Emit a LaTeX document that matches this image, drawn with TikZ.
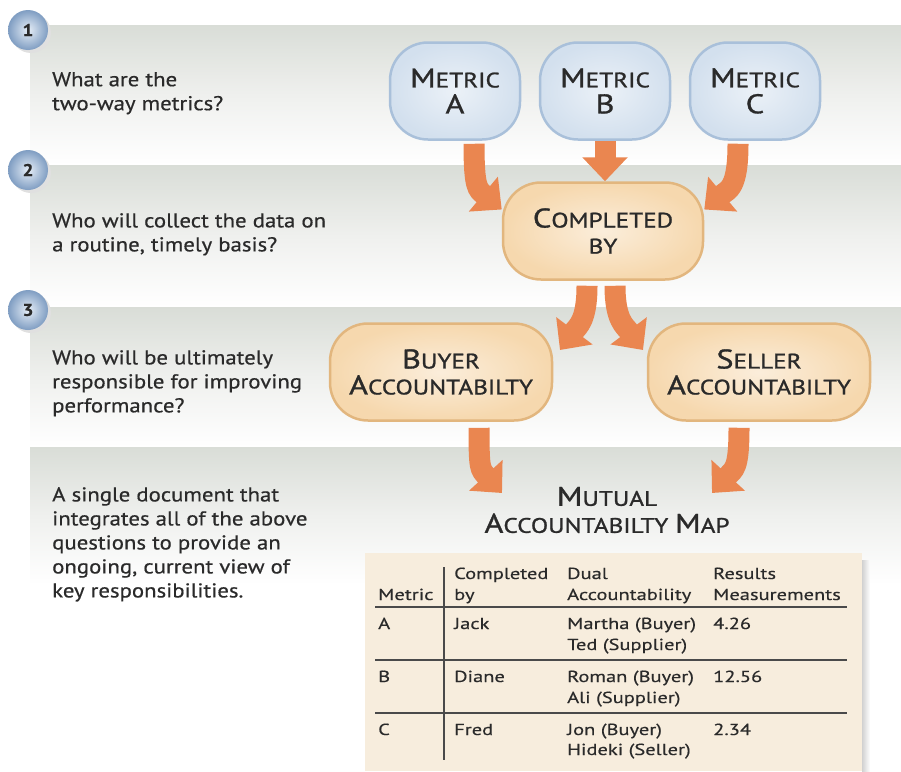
\documentclass[tikz,border=0pt]{standalone}
\usepackage{fontspec}
\setmainfont{PT Sans}[FakeStretch=1.14,FakeBold=0.6]
\newfontfamily\capfont{PT Sans}[FakeStretch=1.2,FakeBold=1.1]
\newfontfamily\tabfont{PT Sans}[FakeStretch=1.28,FakeBold=0.4]
\usetikzlibrary{arrows.meta,calc}

\definecolor{bandgray}{HTML}{D9DDD7}
\definecolor{bandmid}{HTML}{EFF0EE}
\definecolor{ballin}{HTML}{E6EEF7}
\definecolor{ballout}{HTML}{7F9DC2}
\definecolor{metfill}{HTML}{D3E0EE}
\definecolor{metedge}{HTML}{A9C0DA}
\definecolor{ornfill}{HTML}{F6D8AE}
\definecolor{ornedge}{HTML}{E2B67E}
\definecolor{arrorange}{HTML}{EA8650}
\definecolor{tablefill}{HTML}{F7EDDD}
\definecolor{ink}{HTML}{2A2A2A}

\newcommand\capl[1]{{\fontsize{27}{27}\selectfont #1}}

\begin{document}
\begin{tikzpicture}[x=1pt,y=-1pt,
  every node/.style={text=ink},
  band/.style={top color=bandgray,bottom color=white,middle color=bandmid},
  numball/.style={circle,minimum size=40pt,inner sep=0pt,inner color=ballin,outer color=ballout,font=\fontsize{17}{17}\selectfont\bfseries},
  question/.style={anchor=north west,align=left,inner sep=0pt,font=\fontsize{20}{24}\selectfont},
  metric/.style={rounded corners=38pt,minimum width=130pt,minimum height=97pt,inner color=metfill!45!white,outer color=metfill,draw=metedge,line width=2.5pt,align=center,font=\capfont\fontsize{21}{26}\selectfont},
  role/.style={metric,inner color=ornfill!45!white,outer color=ornfill,draw=ornedge,minimum width=222pt},
  flow/.style={arrorange,line width=21pt,-{Triangle[width=44pt,length=24pt]}},
  cell/.style={anchor=base west,inner sep=0pt,font=\tabfont\fontsize{16}{16}\selectfont},
  rule/.style={line width=2pt,draw=ink!85}
]
\useasboundingbox (0,0) rectangle (901,771);

% bands
\fill[band] (30,25) rectangle (901,165);
\fill[band] (30,165) rectangle (901,307);
\fill[band] (30,307) rectangle (901,447);
\fill[band] (30,447) rectangle (901,585);

\fill[black!12] (31,33) circle (20);
\fill[black!12] (31,173) circle (20);
\fill[black!12] (31,313) circle (20);
\node[numball] (n1) at (28,30) {1};
\node[numball] (n2) at (28,170) {2};
\node[numball] (n3) at (28,310) {3};

\node[question] (q1) at (52,72) {What are the\\two-way metrics?};
\node[question] (q2) at (52,213) {Who will collect the data on\\a routine, timely basis?};
\node[question] (q3) at (52,350) {Who will be ultimately\\responsible for improving\\performance?};
\node[question] (q4) at (52,487) {A single document that\\integrates all of the above\\questions to provide an\\ongoing, current view of\\key responsibilities.};

\node[metric] (ma) at (455,91) {\capl{M}ETRIC\\\capl{A}};
\node[metric] (mb) at (605,91) {\capl{M}ETRIC\\\capl{B}};
\node[metric] (mc) at (755,91) {\capl{M}ETRIC\\\capl{C}};

\node[role,minimum width=200pt] (cb) at (603,231) {\capl{C}OMPLETED\\BY};
\node[role] (ba) at (441,372) {\capl{B}UYER\\\capl{A}CCOUNTABILTY};
\node[role] (sa) at (759,372) {\capl{S}ELLER\\\capl{A}CCOUNTABILTY};

\node[align=center,font=\capfont\fontsize{21}{27}\selectfont] (mt) at (607,510) {\capl{M}UTUAL\\\capl{A}CCOUNTABILTY \capl{M}AP};

% arrow ends
\coordinate (tb) at (560,350);
\coordinate (ts) at (643,350);
\coordinate (tm1) at (502,493);
\coordinate (tm2) at (712,493);

% arrows
\draw[flow] ($(ma.south)+(19,3)$) .. controls +(0,45) and +(-24,-20) .. (cb.168);
\draw[flow] (mb.south) -- (mb.south |- cb.north);
\draw[flow] ($(mc.south)+(-17,3)$) .. controls +(0,45) and +(24,-20) .. (cb.12);
\draw[flow] ($(cb.south)+(-16,5)$) .. controls +(0,35) and +(18,-24) .. (tb);
\draw[flow] ($(cb.south)+(12,5)$) .. controls +(0,35) and +(-18,-24) .. (ts);
\draw[flow] ($(ba.south)+(38,6)$) .. controls +(0,42) and +(-22,-24) .. (tm1);
\draw[flow] ($(sa.south)+(-20,6)$) .. controls +(0,42) and +(22,-24) .. (tm2);

% table
\def\x{362}
\def\y{552}
\shade[left color=black!18,right color=white] (\x + 500, \y + 8) rectangle (\x + 508, 771);
\fill[tablefill] (\x + 3, \y + 1) rectangle (\x + 500, 771);

\node[cell] (hm) at (\x + 16, \y + 48) {Metric};
\node[cell] (hc) at (\x + 92, \y + 27) {Completed};
\node[cell] (hc2) at (\x + 92, \y + 48) {by};
\node[cell] (hd) at (\x + 205, \y + 27) {Dual};
\node[cell] (hd2) at (\x + 205, \y + 48) {Accountability};
\node[cell] (hr) at (\x + 351, \y + 27) {Results};
\node[cell] (hr2) at (\x + 351, \y + 48) {Measurements};

\node[cell] (ra) at (\x + 16, \y + 77) {A};
\node[cell] at (\x + 92, \y + 77) {Jack};
\node[cell] at (\x + 205, \y + 77) {Martha (Buyer)};
\node[cell] at (\x + 205, \y + 98) {Ted (Supplier)};
\node[cell] at (\x + 351, \y + 77) {4.26};

\node[cell] (rb) at (\x + 16, \y + 130) {B};
\node[cell] at (\x + 92, \y + 130) {Diane};
\node[cell] at (\x + 205, \y + 130) {Roman (Buyer)};
\node[cell] at (\x + 205, \y + 151) {Ali (Supplier)};
\node[cell] at (\x + 351, \y + 130) {12.56};

\node[cell] (rc) at (\x + 16, \y + 183) {C};
\node[cell] at (\x + 92, \y + 183) {Fred};
\node[cell] at (\x + 205, \y + 183) {Jon (Buyer)};
\node[cell] at (\x + 205, \y + 203) {Hideki (Seller)};
\node[cell] at (\x + 351, \y + 183) {2.34};

\draw[rule] (\x + 13, \y + 55) -- (\x + 485, \y + 55);
\draw[rule] (\x + 13, \y + 108) -- (\x + 485, \y + 108);
\draw[rule] (\x + 13, \y + 161) -- (\x + 485, \y + 161);
\draw[rule] (\x + 82, \y + 15) -- (\x + 82, \y + 208);

\end{tikzpicture}
\end{document}
